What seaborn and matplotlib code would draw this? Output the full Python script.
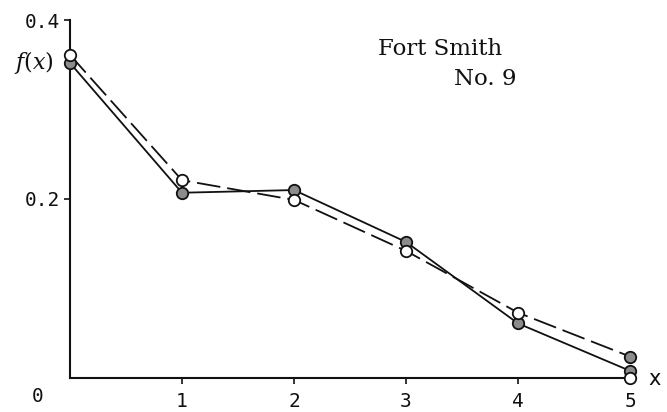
import matplotlib
matplotlib.use("Agg")
import matplotlib.pyplot as plt
import seaborn as sns
import pandas as pd

# Poisson-type frequencies for Fort Smith No. 9
x_vals = [0, 1, 2, 3, 4, 5]
solid_line = [0.352, 0.207, 0.210, 0.152, 0.061, 0.008]   # solid curve, grey dots
dashed_line = [0.361, 0.221, 0.199, 0.142, 0.073, 0.024]  # dashed curve
open_points = [0.361, 0.221, 0.199, 0.142, 0.073, 0.000]  # open circles
grey_points = solid_line + [0.024]
grey_x = x_vals + [5]
x_ticks = [1, 2, 3, 4, 5]
y_ticks = [0.2, 0.4]
y_tick_labels = ["0.2", "0.4"]

sns.set_theme(style="white")
plt.rcParams["lines.scale_dashes"] = False
plt.rcParams["mathtext.fontset"] = "dejavuserif"

fig = plt.figure(figsize=(6.67, 4.12), dpi=100)
ax = fig.add_axes([70 / 667, 1 - 378 / 412, 560 / 667, 358 / 412])

ink = "#111111"
df_solid = pd.DataFrame({"x": x_vals, "f": solid_line})
df_dash = pd.DataFrame({"x": x_vals, "f": dashed_line})

sns.lineplot(data=df_solid, x="x", y="f", ax=ax, color=ink, lw=1.3,
             zorder=3, clip_on=False)
sns.lineplot(data=df_dash, x="x", y="f", ax=ax, color=ink, lw=1.3,
             zorder=3, clip_on=False)
ax.lines[-1].set_dashes((17, 5))

sns.scatterplot(x=grey_x, y=grey_points, ax=ax, s=68, color="#8c8c8c",
                edgecolor=ink, linewidth=1.3, zorder=5, clip_on=False)
sns.scatterplot(x=x_vals, y=open_points, ax=ax, s=68, color="white",
                edgecolor=ink, linewidth=1.3, zorder=6, clip_on=False)

ax.set_xlim(0, 5)
ax.set_ylim(0, 0.4)

for side in ("top", "right"):
    ax.spines[side].set_visible(False)
for side in ("left", "bottom"):
    ax.spines[side].set_color(ink)
    ax.spines[side].set_linewidth(1.5)

mono = "DejaVu Sans Mono"
ax.set_xticks(x_ticks)
ax.set_xticklabels([str(t) for t in x_ticks], family=mono, fontsize=14)
ax.set_yticks(y_ticks)
ax.set_yticklabels(y_tick_labels, family=mono, fontsize=14)
ax.tick_params(axis="both", direction="out", length=4, width=1.2,
               color=ink, labelcolor=ink, bottom=True, left=True, pad=3)
ax.tick_params(axis="x", pad=6)
ax.set_xlabel("")
ax.set_ylabel("")

# shared origin label and axis names
fig.text(38 / 667, 1 - 397 / 412, "0", family=mono, fontsize=14,
         color=ink, ha="center", va="center")
fig.text(655 / 667, 1 - 379 / 412, "x", family="DejaVu Sans", fontsize=15,
         color=ink, ha="center", va="center")
fig.text(34 / 667, 1 - 62 / 412, "$f(x)$", fontsize=16, color=ink,
         ha="center", va="center")

fig.text(440 / 667, 1 - 49 / 412, "Fort Smith", family="DejaVu Serif",
         fontsize=16.5, color=ink, ha="center", va="center")
fig.text(516 / 667, 1 - 79 / 412, "No. 9", family="DejaVu Serif",
         fontsize=16.5, color=ink, ha="right", va="center")

fig.savefig("out.png", dpi=100, facecolor="white")
